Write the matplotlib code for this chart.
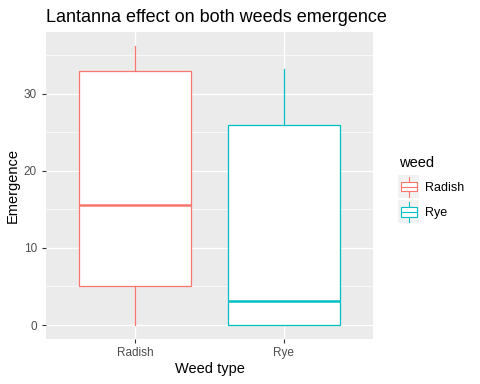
import matplotlib.pyplot as plt
from matplotlib.legend_handler import HandlerBase
from matplotlib.patches import Rectangle
from matplotlib.lines import Line2D

plt.rcParams["font.family"] = ["Liberation Sans", "DejaVu Sans"]

weeds = ["Radish", "Rye"]
colors = ["#F8766D", "#00BFC4"]
# box stats: low whisker, q1, median, q3, high whisker
low = [0.0, 0.0]
q1 = [5.1, 0.0]
median = [15.6, 3.1]
q3 = [32.9, 26.0]
high = [36.2, 33.2]

fig = plt.figure(figsize=(4.8, 3.84), dpi=100)
ax = fig.add_axes([46 / 480, 1 - 339 / 384, 327 / 480, 307 / 384])
ax.set_facecolor("#EBEBEB")
for s in ax.spines.values():
    s.set_visible(False)

for y in [5, 15, 25, 35]:
    ax.axhline(y, color="white", lw=0.5, zorder=0)
for y in [0, 10, 20, 30]:
    ax.axhline(y, color="white", lw=1.0, zorder=0)
for x in [1, 2]:
    ax.axvline(x, color="white", lw=1.0, zorder=0)

stats = []
for i, w in enumerate(weeds):
    stats.append(dict(label=w, whislo=low[i], q1=q1[i], med=median[i],
                      q3=q3[i], whishi=high[i], fliers=[]))

for i, st in enumerate(stats):
    c = colors[i]
    ax.bxp([st], positions=[i + 1], widths=0.75, showcaps=False,
           patch_artist=True,
           boxprops=dict(facecolor="white", edgecolor=c, lw=0.9),
           whiskerprops=dict(color=c, lw=0.9),
           medianprops=dict(color=c, lw=1.8),
           manage_ticks=False, zorder=2)

ax.set_xlim(0.4, 2.6)
ax.set_ylim(-1.81, 38.0)
ax.set_xticks([1, 2])
ax.set_xticklabels(weeds)
ax.set_yticks([0, 10, 20, 30])
ax.tick_params(colors="#333333", labelsize=8.5, length=3, width=0.8)
for t in ax.get_xticklabels() + ax.get_yticklabels():
    t.set_color("#4D4D4D")
ax.tick_params(axis="x", pad=3)
ax.set_xlabel("Weed type", fontsize=10.5, labelpad=2)
ax.set_ylabel("Emergence", fontsize=10.5, labelpad=3)
ax.set_title("Lantanna effect on both weeds emergence", fontsize=13,
             loc="left", x=0, pad=7)


class BoxHandler(HandlerBase):
    def create_artists(self, legend, orig, xd, yd, w, h, fs, trans):
        c = orig.get_color()
        bg = Rectangle((-xd - 1, -yd - 2), w + 2, h + 4, facecolor="#F2F2F2",
                       edgecolor="none", transform=trans)
        cx = -xd + w / 2
        box = Rectangle((-xd + 1, -yd + h * 0.22), w - 2, h * 0.56,
                        facecolor="white", edgecolor=c, lw=0.8, transform=trans)
        mid = Line2D([-xd + 1, -xd + w - 1], [-yd + h / 2] * 2, color=c,
                     lw=0.8, transform=trans)
        top = Line2D([cx, cx], [-yd + h * 0.78, -yd + h + 1], color=c,
                     lw=0.8, transform=trans)
        bot = Line2D([cx, cx], [-yd - 1, -yd + h * 0.22], color=c,
                     lw=0.8, transform=trans)
        return [bg, box, mid, top, bot]


handles = [Line2D([], [], color=c) for c in colors]
leg = fig.legend(handles, weeds, title="weed", loc="upper left",
                 bbox_to_anchor=(388 / 480, 1 - 145 / 384), frameon=False,
                 fontsize=9, title_fontsize=10.5, handlelength=1.5,
                 handleheight=1.75, handletextpad=0.6, labelspacing=0.62,
                 handler_map={Line2D: BoxHandler()})
leg._legend_box.align = "left"

fig.savefig("out.png", dpi=100)
